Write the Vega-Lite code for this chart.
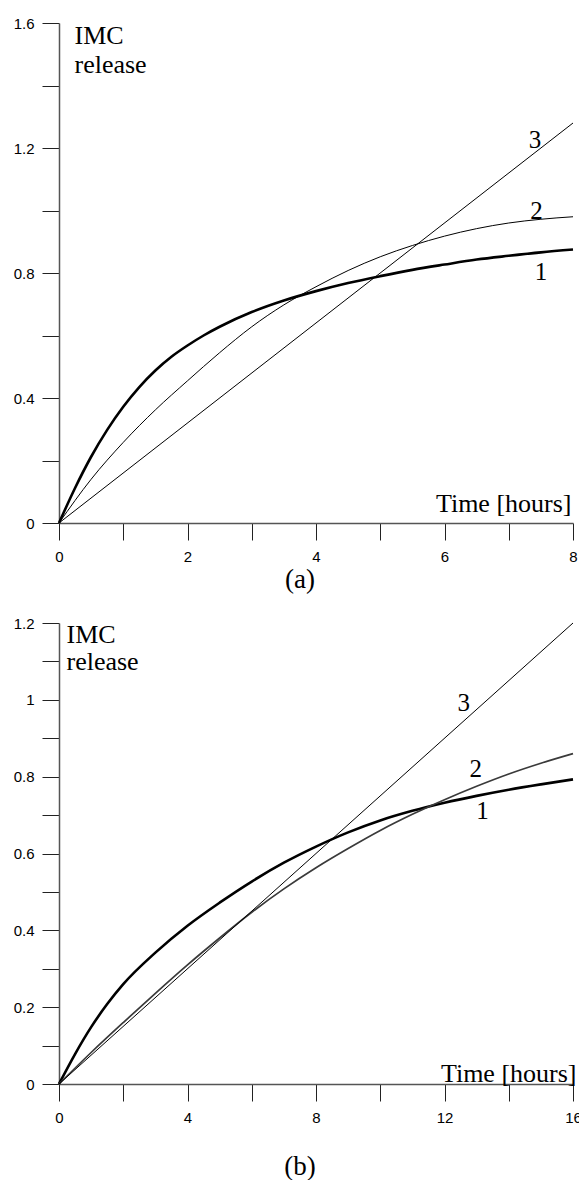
{
  "$schema": "https://vega.github.io/schema/vega-lite/v6.json",
  "background": "white",
  "padding": {"left": 13, "top": 16, "right": 0, "bottom": 0},
  "spacing": 23,
  "config": {
    "view": {"stroke": null},
    "axis": {
      "grid": false,
      "domainColor": "#555",
      "domainWidth": 1.5,
      "tickColor": "#222",
      "tickWidth": 1,
      "tickSize": 17,
      "labelFont": "Liberation Sans",
      "labelFontSize": 15,
      "labelColor": "black",
      "labelFlush": false,
      "labelOverlap": false,
      "titleFont": "Liberation Serif",
      "titleFontSize": 26,
      "titleFontWeight": "normal",
      "titleColor": "black"
    },
    "axisX": {"labelPadding": 9},
    "axisY": {"labelPadding": 8},
    "title": {"font": "Liberation Serif", "fontSize": 27, "fontWeight": "normal", "color": "black"}
  },
  "datasets": {
    "curves": [
      {"panel": "a", "curve": "1", "t": 0, "v": 0},
      {"panel": "a", "curve": "1", "t": 0.25, "v": 0.112},
      {"panel": "a", "curve": "1", "t": 0.5, "v": 0.212},
      {"panel": "a", "curve": "1", "t": 0.75, "v": 0.298},
      {"panel": "a", "curve": "1", "t": 1, "v": 0.372},
      {"panel": "a", "curve": "1", "t": 1.25, "v": 0.435},
      {"panel": "a", "curve": "1", "t": 1.5, "v": 0.488},
      {"panel": "a", "curve": "1", "t": 1.75, "v": 0.532},
      {"panel": "a", "curve": "1", "t": 2, "v": 0.568},
      {"panel": "a", "curve": "1", "t": 2.25, "v": 0.6},
      {"panel": "a", "curve": "1", "t": 2.5, "v": 0.628},
      {"panel": "a", "curve": "1", "t": 3, "v": 0.675},
      {"panel": "a", "curve": "1", "t": 3.5, "v": 0.712},
      {"panel": "a", "curve": "1", "t": 4, "v": 0.742},
      {"panel": "a", "curve": "1", "t": 4.5, "v": 0.768},
      {"panel": "a", "curve": "1", "t": 5, "v": 0.79},
      {"panel": "a", "curve": "1", "t": 5.5, "v": 0.81},
      {"panel": "a", "curve": "1", "t": 6, "v": 0.827},
      {"panel": "a", "curve": "1", "t": 6.5, "v": 0.843},
      {"panel": "a", "curve": "1", "t": 7, "v": 0.855},
      {"panel": "a", "curve": "1", "t": 7.5, "v": 0.866},
      {"panel": "a", "curve": "1", "t": 8, "v": 0.875},
      {"panel": "a", "curve": "2", "t": 0, "v": 0},
      {"panel": "a", "curve": "2", "t": 0.5, "v": 0.14},
      {"panel": "a", "curve": "2", "t": 1, "v": 0.258},
      {"panel": "a", "curve": "2", "t": 1.5, "v": 0.362},
      {"panel": "a", "curve": "2", "t": 2, "v": 0.455},
      {"panel": "a", "curve": "2", "t": 2.5, "v": 0.545},
      {"panel": "a", "curve": "2", "t": 3, "v": 0.628},
      {"panel": "a", "curve": "2", "t": 3.5, "v": 0.698},
      {"panel": "a", "curve": "2", "t": 4, "v": 0.756},
      {"panel": "a", "curve": "2", "t": 4.5, "v": 0.808},
      {"panel": "a", "curve": "2", "t": 5, "v": 0.852},
      {"panel": "a", "curve": "2", "t": 5.5, "v": 0.888},
      {"panel": "a", "curve": "2", "t": 6, "v": 0.918},
      {"panel": "a", "curve": "2", "t": 6.5, "v": 0.942},
      {"panel": "a", "curve": "2", "t": 7, "v": 0.96},
      {"panel": "a", "curve": "2", "t": 7.5, "v": 0.972},
      {"panel": "a", "curve": "2", "t": 8, "v": 0.98},
      {"panel": "a", "curve": "3", "t": 0, "v": 0},
      {"panel": "a", "curve": "3", "t": 8, "v": 1.28},
      {"panel": "b", "curve": "1", "t": 0, "v": 0},
      {"panel": "b", "curve": "1", "t": 0.5, "v": 0.078},
      {"panel": "b", "curve": "1", "t": 1, "v": 0.148},
      {"panel": "b", "curve": "1", "t": 1.5, "v": 0.208},
      {"panel": "b", "curve": "1", "t": 2, "v": 0.26},
      {"panel": "b", "curve": "1", "t": 3, "v": 0.342},
      {"panel": "b", "curve": "1", "t": 4, "v": 0.412},
      {"panel": "b", "curve": "1", "t": 5, "v": 0.472},
      {"panel": "b", "curve": "1", "t": 6, "v": 0.527},
      {"panel": "b", "curve": "1", "t": 7, "v": 0.576},
      {"panel": "b", "curve": "1", "t": 8, "v": 0.618},
      {"panel": "b", "curve": "1", "t": 9, "v": 0.655},
      {"panel": "b", "curve": "1", "t": 10, "v": 0.686},
      {"panel": "b", "curve": "1", "t": 11, "v": 0.711},
      {"panel": "b", "curve": "1", "t": 12, "v": 0.732},
      {"panel": "b", "curve": "1", "t": 13, "v": 0.75},
      {"panel": "b", "curve": "1", "t": 14, "v": 0.766},
      {"panel": "b", "curve": "1", "t": 15, "v": 0.78},
      {"panel": "b", "curve": "1", "t": 16, "v": 0.793},
      {"panel": "b", "curve": "2", "t": 0, "v": 0},
      {"panel": "b", "curve": "2", "t": 1, "v": 0.082},
      {"panel": "b", "curve": "2", "t": 2, "v": 0.16},
      {"panel": "b", "curve": "2", "t": 3, "v": 0.236},
      {"panel": "b", "curve": "2", "t": 4, "v": 0.31},
      {"panel": "b", "curve": "2", "t": 5, "v": 0.38},
      {"panel": "b", "curve": "2", "t": 6, "v": 0.447},
      {"panel": "b", "curve": "2", "t": 7, "v": 0.508},
      {"panel": "b", "curve": "2", "t": 8, "v": 0.563},
      {"panel": "b", "curve": "2", "t": 9, "v": 0.613},
      {"panel": "b", "curve": "2", "t": 10, "v": 0.66},
      {"panel": "b", "curve": "2", "t": 11, "v": 0.702},
      {"panel": "b", "curve": "2", "t": 12, "v": 0.74},
      {"panel": "b", "curve": "2", "t": 13, "v": 0.775},
      {"panel": "b", "curve": "2", "t": 14, "v": 0.807},
      {"panel": "b", "curve": "2", "t": 15, "v": 0.835},
      {"panel": "b", "curve": "2", "t": 16, "v": 0.86},
      {"panel": "b", "curve": "3", "t": 0, "v": 0},
      {"panel": "b", "curve": "3", "t": 16, "v": 1.2}
    ],
    "labs": [
      {"panel": "a", "t": 7.41, "v": 1.226, "lab": "3"},
      {"panel": "a", "t": 7.43, "v": 1.0, "lab": "2"},
      {"panel": "a", "t": 7.5, "v": 0.804, "lab": "1"},
      {"panel": "b", "t": 12.6, "v": 0.991, "lab": "3"},
      {"panel": "b", "t": 12.97, "v": 0.82, "lab": "2"},
      {"panel": "b", "t": 13.18, "v": 0.71, "lab": "1"}
    ]
  },
  "vconcat": [
    {
      "width": 514,
      "height": 500,
      "title": {"text": "(a)", "orient": "bottom", "anchor": "middle", "dx": -16, "offset": 3},
      "encoding": {
        "x": {
          "field": "t", "type": "quantitative",
          "scale": {"domain": [0, 8], "nice": false},
          "axis": {
            "values": [0, 1, 2, 3, 4, 5, 6, 7, 8],
            "labelExpr": "datum.value % 2 === 0 ? datum.label : ''",
            "encode": {"ticks": {"update": {"y2": {"signal": "datum.value % 2 === 0 ? 17 : 8"}}}},
            "title": "Time [hours]",
            "titleX": 512, "titleY": -12,
            "titleAlign": "right", "titleBaseline": "alphabetic"
          }
        },
        "y": {
          "field": "v", "type": "quantitative",
          "scale": {"domain": [0, 1.6], "nice": false},
          "axis": {
            "values": [0, 0.2, 0.4, 0.6, 0.8, 1.0, 1.2, 1.4, 1.6],
            "labelExpr": "round(datum.value * 10) % 4 === 0 ? format(datum.value, '~g') : ''",
            "encode": {"ticks": {"update": {"x2": {"signal": "round(datum.value * 10) % 4 === 0 ? -17 : -8"}}}},
            "title": ["IMC", "release"],
            "titleAngle": 0, "titleAlign": "left", "titleBaseline": "alphabetic",
            "titleX": 15, "titleY": 20, "titleLineHeight": 29
          }
        }
      },
      "layer": [
        {
          "data": {"name": "curves"},
          "transform": [{"filter": "datum.panel === 'a'"}],
          "mark": {"type": "line", "interpolate": "monotone", "color": "black"},
          "encoding": {
            "detail": {"field": "curve"},
            "strokeWidth": {"condition": {"test": "datum.curve === '1'", "value": 2.6}, "value": 1}
          }
        },
        {
          "data": {"name": "labs"},
          "transform": [{"filter": "datum.panel === 'a'"}],
          "mark": {"type": "text", "font": "Liberation Serif", "fontSize": 25, "color": "black", "align": "center", "baseline": "middle"},
          "encoding": {"text": {"field": "lab"}}
        }
      ]
    },
    {
      "width": 514,
      "height": 461,
      "title": {"text": "(b)", "orient": "bottom", "anchor": "middle", "dx": -16, "offset": 29},
      "encoding": {
        "x": {
          "field": "t", "type": "quantitative",
          "scale": {"domain": [0, 16], "nice": false},
          "axis": {
            "values": [0, 2, 4, 6, 8, 10, 12, 14, 16],
            "labelExpr": "datum.value % 4 === 0 ? datum.label : ''",
            "encode": {"ticks": {"update": {"y2": {"signal": "datum.value % 4 === 0 ? 17 : 8"}}}},
            "title": "Time [hours]",
            "titleX": 517, "titleY": -3,
            "titleAlign": "right", "titleBaseline": "alphabetic"
          }
        },
        "y": {
          "field": "v", "type": "quantitative",
          "scale": {"domain": [0, 1.2], "nice": false},
          "axis": {
            "values": [0, 0.1, 0.2, 0.3, 0.4, 0.5, 0.6, 0.7, 0.8, 0.9, 1.0, 1.1, 1.2],
            "labelExpr": "round(datum.value * 10) % 2 === 0 ? format(datum.value, '~g') : ''",
            "encode": {"ticks": {"update": {"x2": {"signal": "round(datum.value * 10) % 2 === 0 ? -17 : -8"}}}},
            "title": ["IMC", "release"],
            "titleAngle": 0, "titleAlign": "left", "titleBaseline": "alphabetic",
            "titleX": 7, "titleY": 19, "titleLineHeight": 27
          }
        }
      },
      "layer": [
        {
          "data": {"name": "curves"},
          "transform": [{"filter": "datum.panel === 'b'"}],
          "mark": {"type": "line", "interpolate": "monotone"},
          "encoding": {
            "detail": {"field": "curve"},
            "color": {"condition": {"test": "datum.curve === '2'", "value": "#3a3a3a"}, "value": "black"},
            "strokeWidth": {"condition": [{"test": "datum.curve === '1'", "value": 2.6}, {"test": "datum.curve === '2'", "value": 1.7}], "value": 1}
          }
        },
        {
          "data": {"name": "labs"},
          "transform": [{"filter": "datum.panel === 'b'"}],
          "mark": {"type": "text", "font": "Liberation Serif", "fontSize": 25, "color": "black", "align": "center", "baseline": "middle"},
          "encoding": {"text": {"field": "lab"}}
        }
      ]
    }
  ]
}
